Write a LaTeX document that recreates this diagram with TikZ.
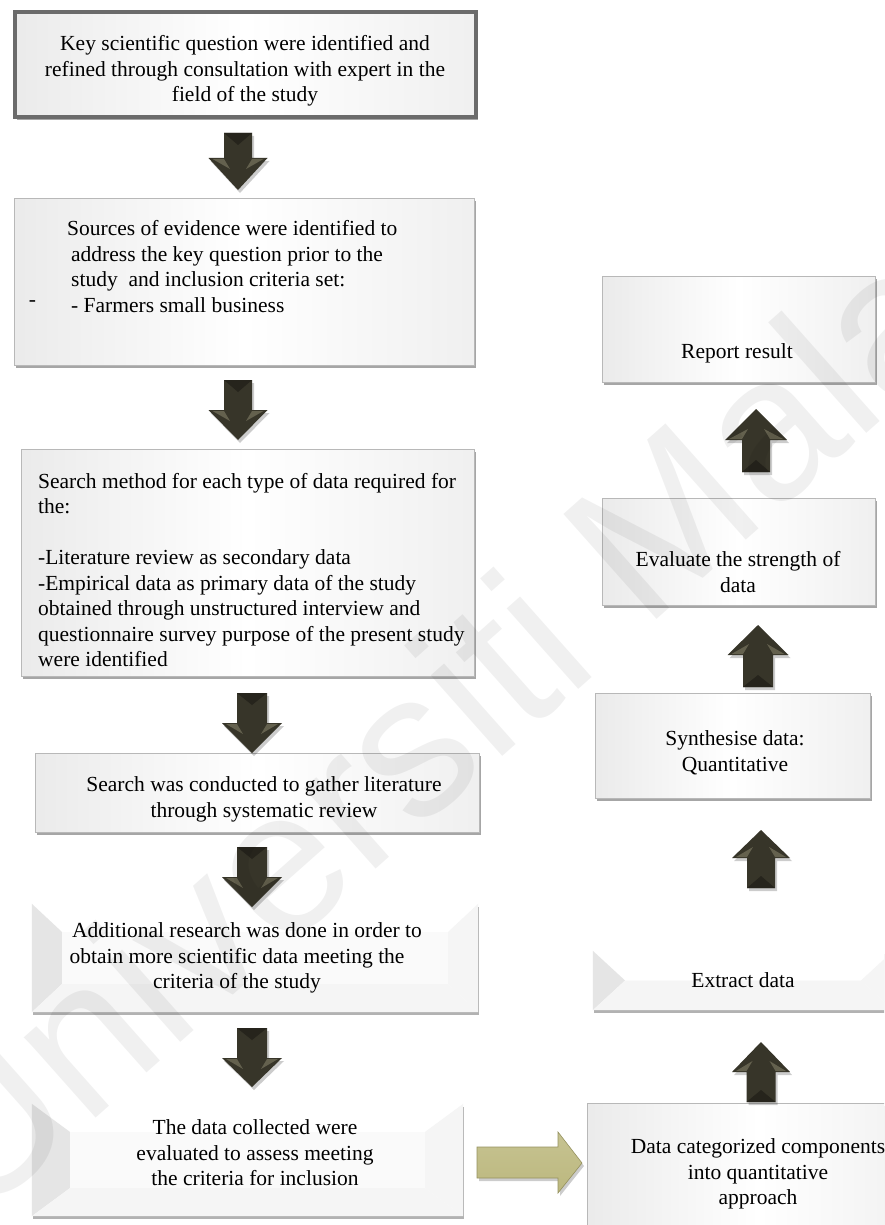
\documentclass[tikz,border=0pt]{standalone}
\usepackage{fontspec}
\setmainfont{Liberation Serif}
\newfontfamily\wmfont{Liberation Sans}
\usetikzlibrary{calc,fit,shadows}
\definecolor{arrdark}{RGB}{55,53,41}
\definecolor{arrlight}{RGB}{100,97,78}
\definecolor{arrmid}{RGB}{38,36,28}
\definecolor{khaki1}{RGB}{238,236,196}
\definecolor{khaki2}{RGB}{188,184,126}
\definecolor{khakiedge}{RGB}{150,146,96}
\tikzset{
  txt/.style={font=\fontsize{21.5}{25.5}\selectfont, inner sep=0pt, align=center},
  glass/.style={draw=black!28, line width=0.8pt, left color=black!8, right color=black!6, middle color=white,
     inner sep=0pt, drop shadow={shadow xshift=2pt, shadow yshift=-3pt, fill=black, opacity=.35}},
  darkglass/.style={glass, draw=black!58, line width=3.5pt},
  bevel/.style={draw=none, fill=white, inner sep=0pt,
     drop shadow={shadow xshift=1pt, shadow yshift=-3pt, fill=black, opacity=.3}},
}
% cx, shaft end, head base, tip, half head width, half shaft width
\newcommand{\blockarrow}[6]{%
  \pgfmathsetmacro{\arrsgn}{(#4-#3)/abs(#4-#3)}%
  \fill[black, opacity=.2] (#1-#6+2,#2+3) -- (#1+#6+2,#2+3) -- (#1+#6+2,#3+3) -- (#1+#5+2,#3+3)
     -- (#1+2,#4+3) -- (#1-#5+2,#3+3) -- (#1-#6+2,#3+3) -- cycle;
  \fill[arrdark] (#1-#6,#2) -- (#1+#6,#2) -- (#1+#6,#3) -- (#1+#5,#3) -- (#1,#4) -- (#1-#5,#3) -- (#1-#6,#3) -- cycle;
  \fill[arrmid] (#1-#6,#2) -- (#1+#6,#2) -- (#1,#2+\arrsgn*12) -- cycle;
  \fill[arrlight] (#1-#5+4,#3+\arrsgn*1) -- (#1-#6,#3+\arrsgn*1) -- (#1-#6+6,#3+\arrsgn*11) -- cycle;
  \fill[arrlight] (#1+#5-4,#3+\arrsgn*1) -- (#1+#6,#3+\arrsgn*1) -- (#1+#6-6,#3+\arrsgn*11) -- cycle;
}
% node name, horizontal inset, vertical inset
\newcommand{\bevelfacets}[3]{%
  \fill[black!10] (#1.north west) -- ($(#1.north west)+(#2,#3)$) -- ($(#1.south west)+(#2,-#3)$) -- (#1.south west) -- cycle;
  \fill[black!4] (#1.north east) -- ($(#1.north east)+(-#2,#3)$) -- ($(#1.south east)+(-#2,-#3)$) -- (#1.south east) -- cycle;
  \fill[black!4] (#1.south west) -- ($(#1.south west)+(#2,-#3)$) -- ($(#1.south east)+(-#2,-#3)$) -- (#1.south east) -- cycle;
  \fill[black!2] ($(#1.north west)+(#2,#3)$) rectangle ($(#1.south east)+(-#2,-#3)$);
}
\begin{document}
\begin{tikzpicture}[x=1pt,y=-1pt]
\useasboundingbox (0,0) rectangle (884,1225);
\fill[white] (0,0) rectangle (884,1225);
\clip (0,0) rectangle (884,1225);

% ---------- left column boxes ----------
\node[darkglass, fit={(15,12)(476,117)}] (b1) {};
\node[glass, fit={(14,198)(474,365)}] (b2) {};
\node[glass, fit={(21,449)(474,676)}] (b3) {};
\node[glass, fit={(35,753)(479,832)}] (b4) {};
\node[bevel, fit={(32,904)(478,1012)}] (b5) {};
\bevelfacets{b5}{30}{28}
\node[bevel, fit={(32,1104)(463,1216)}] (b6) {};
\bevelfacets{b6}{38}{28}

% ---------- right column boxes ----------
\node[glass, fit={(602,276)(875,382)}] (br) {};
\node[glass, fit={(602,498)(875,605)}] (be) {};
\node[glass, fit={(595,693)(870,798)}] (bs) {};
\node[bevel, fit={(593,951)(893,1010)}] (bx) {};
\bevelfacets{bx}{32}{29.5}
\node[glass, fit={(587,1103)(930,1240)}] (b7) {};

% ---------- texts ----------
\node[txt] (t1) at (245,71) {Key scientific question were identified and\\refined through consultation with expert in the\\field of the study};
\node[txt, align=left, anchor=west] (t2) at (67,266.5) {Sources of evidence were identified to\\\hspace*{4pt}address the key question prior to the\\\hspace*{4pt}study\ \ and inclusion criteria set:\\\hspace*{4pt}- Farmers small business};
\node[txt] (t2d) at (32.5,304) {-};
\node[txt, align=left, anchor=west] (t3) at (38,570) {Search method for each type of data required for\\the:\\[25.5pt]-Literature review as secondary data\\-Empirical data as primary data of the study\\obtained through unstructured interview and\\questionnaire survey purpose of the present study\\were identified};
\node[txt] (t4) at (264,799.5) {Search was conducted to gather literature\\through systematic review};
\node[txt] (t5) at (237,958) {\hspace*{20pt}Additional research was done in order to\\obtain more scientific data meeting the\\criteria of the study};
\node[txt] (t6) at (255,1153) {The data collected were\\evaluated to assess meeting\\the criteria for inclusion};
\node[txt] (t7) at (758,1174) {Data categorized components\\into quantitative\\approach};
\node[txt] (tr) at (737,353) {Report result};
\node[txt] (te) at (738,572) {Evaluate the strength of\\data};
\node[txt] (ts) at (735,753) {Synthesise data:\\Quantitative};
\node[txt] (tx) at (743,980) {Extract data};

% ---------- block arrows ----------
\blockarrow{238}{133}{158}{190}{29.5}{14}
\blockarrow{238}{380}{410}{440}{29.5}{14}
\blockarrow{252}{693}{723}{753}{30}{15}
\blockarrow{252}{847}{877}{907}{30}{15}
\blockarrow{252}{1028}{1058}{1087}{30}{15}
\blockarrow{756}{472}{440}{409}{31}{14}
\blockarrow{758}{687}{655}{625}{30.5}{15}
\blockarrow{761}{888}{858}{830}{29}{14}
\blockarrow{761}{1102}{1072}{1042}{29}{14.5}

% green arrow
\fill[black, opacity=.2] (479,1150) -- (560,1150) -- (560,1135) -- (584,1166) -- (560,1196) -- (560,1181) -- (479,1181) -- cycle;
\path[draw=khakiedge, line width=0.6pt, top color=khaki2!85!white, middle color=khaki1, bottom color=khaki2]
  (477,1147) -- (558,1147) -- (558,1132) -- (582,1163) -- (558,1193) -- (558,1178) -- (477,1178) -- cycle;

% ---------- watermark ----------
\node[rotate=41.6, anchor=base west, inner sep=0pt, text=black, text opacity=.06,
      font=\wmfont\fontsize{204}{204}\selectfont] (wm) at (-25,1225) {Universiti Malaya};
\end{tikzpicture}
\end{document}
